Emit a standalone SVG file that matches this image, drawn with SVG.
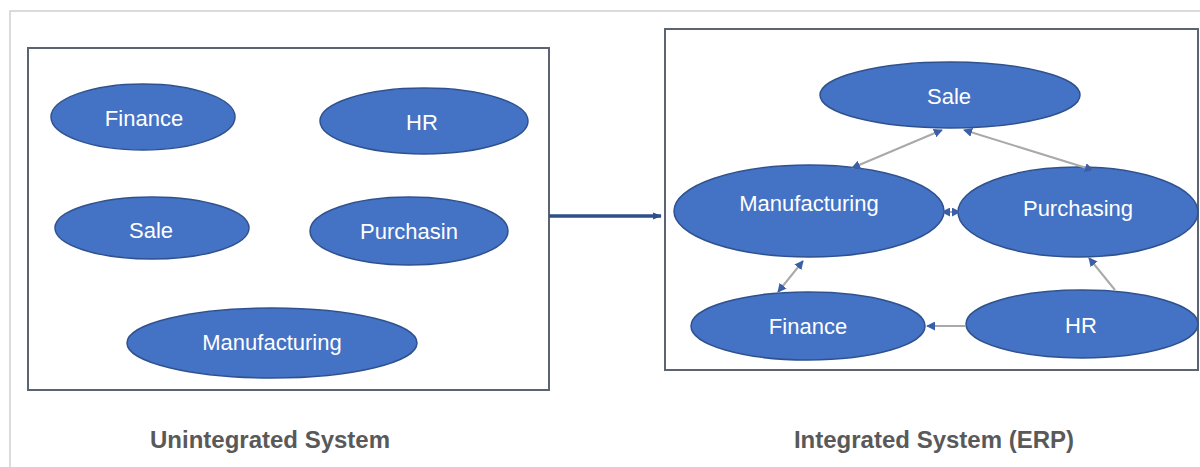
<svg xmlns="http://www.w3.org/2000/svg" width="1200" height="467" viewBox="0 0 1200 467">
<style>
.node ellipse{fill:#4472C4;stroke:#2F528F;stroke-width:1.5}
.node text{fill:#ffffff;font-family:"Liberation Sans",Arial,sans-serif;font-size:22px;text-anchor:middle}
.box{fill:none;stroke:#5b6470;stroke-width:2}
.cap{fill:#595959;font-family:"Liberation Sans",Arial,sans-serif;font-size:24px;font-weight:bold;text-anchor:middle}
.link{stroke:#a9a9a9;stroke-width:2;fill:none}
</style>
<defs>
<marker id="ah" viewBox="0 0 10 10" refX="9" refY="5" markerWidth="9" markerHeight="9" markerUnits="userSpaceOnUse" orient="auto-start-reverse">
<path d="M0,0 L10,5 L0,10 z" fill="#3a5ea8"/>
</marker>
<marker id="bigah" viewBox="0 0 10 10" refX="9" refY="5" markerWidth="9" markerHeight="9" markerUnits="userSpaceOnUse" orient="auto">
<path d="M0,1 L10,5 L0,9 z" fill="#2F4E8C"/>
</marker>
</defs>
<rect width="1200" height="467" fill="#ffffff"/>
<path d="M10,467 L10,11 L1200,11" fill="none" stroke="#cfcfcf" stroke-width="1.5"/>
<rect class="box" x="28" y="48" width="521" height="342"/>
<rect class="box" x="665" y="29" width="533" height="341"/>
<g id="left-finance" class="node"><ellipse cx="143" cy="117" rx="92" ry="33"/><text x="144" y="126">Finance</text></g>
<g id="left-hr" class="node"><ellipse cx="424" cy="121" rx="104" ry="33"/><text x="422" y="130">HR</text></g>
<g id="left-sale" class="node"><ellipse cx="152" cy="228" rx="97" ry="31"/><text x="151" y="238">Sale</text></g>
<g id="left-purchasin" class="node"><ellipse cx="409" cy="231" rx="99" ry="34"/><text x="409" y="239">Purchasin</text></g>
<g id="left-manufacturing" class="node"><ellipse cx="272" cy="343" rx="145" ry="35"/><text x="272" y="350">Manufacturing</text></g>
<g id="right-sale" class="node"><ellipse cx="950" cy="95" rx="130" ry="33"/><text x="949" y="104">Sale</text></g>
<g id="right-manufacturing" class="node"><ellipse cx="809" cy="211" rx="135" ry="46"/><text x="809" y="211">Manufacturing</text></g>
<g id="right-purchasing" class="node"><ellipse cx="1078" cy="212" rx="120" ry="45"/><text x="1078" y="216">Purchasing</text></g>
<g id="right-finance" class="node"><ellipse cx="808" cy="326" rx="117" ry="34"/><text x="808" y="334">Finance</text></g>
<g id="right-hr" class="node"><ellipse cx="1082" cy="324" rx="116" ry="34"/><text x="1081" y="333">HR</text></g>
<g id="connectors">
<line x1="549" y1="216" x2="661" y2="216" stroke="#2F4E8C" stroke-width="3.5" marker-end="url(#bigah)"/>
<line class="link" x1="852" y1="168" x2="942" y2="130" marker-start="url(#ah)" marker-end="url(#ah)"/>
<line class="link" x1="964" y1="130" x2="1093" y2="170" marker-start="url(#ah)" marker-end="url(#ah)"/>
<line class="link" x1="942" y1="212" x2="960" y2="212" stroke="#3a5ea8" marker-start="url(#ah)" marker-end="url(#ah)"/>
<line class="link" x1="778" y1="292" x2="803" y2="261" stroke="#6a86bd" marker-start="url(#ah)" marker-end="url(#ah)"/>
<line class="link" x1="1115" y1="290" x2="1089" y2="258" marker-end="url(#ah)"/>
<line class="link" x1="966" y1="326" x2="927" y2="326" marker-end="url(#ah)"/>
</g>
<text class="cap" x="270" y="448">Unintegrated System</text>
<text class="cap" x="934" y="448">Integrated System (ERP)</text>
</svg>
